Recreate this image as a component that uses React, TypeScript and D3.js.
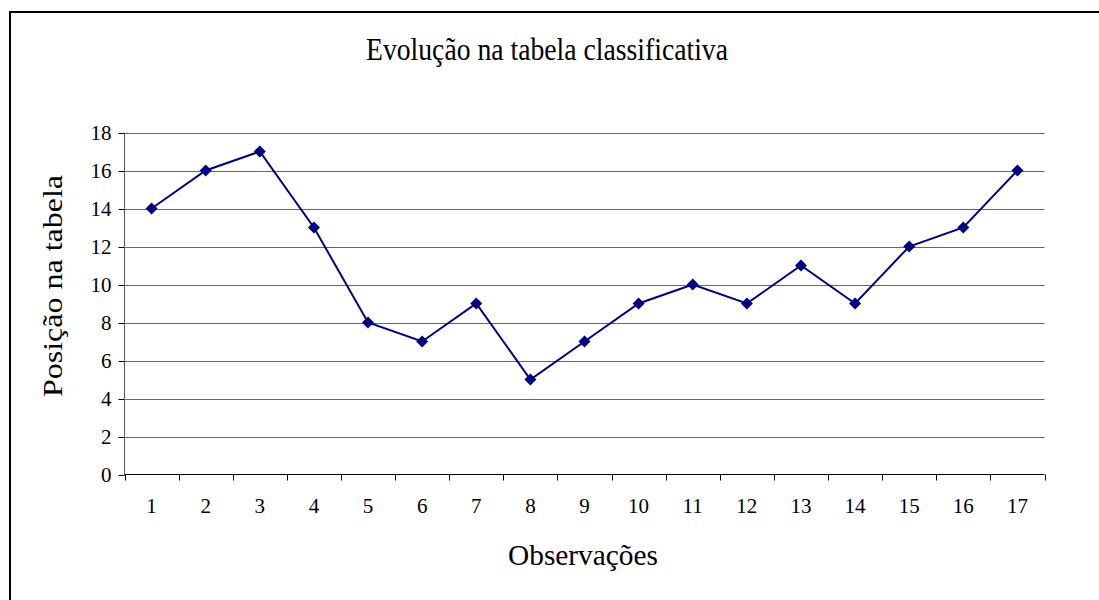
import React from 'react';
import { scaleBand, scaleLinear, line } from 'd3';

const categories = ['1', '2', '3', '4', '5', '6', '7', '8', '9', '10', '11', '12', '13', '14', '15', '16', '17'];
const positions = [14, 16, 17, 13, 8, 7, 9, 5, 7, 9, 10, 9, 11, 9, 12, 13, 16];
const yTicks = [0, 2, 4, 6, 8, 10, 12, 14, 16, 18];

const width = 1099;
const height = 600;
const left = 124.5;
const right = 1044.5;
const top = 132.5;
const bottom = 474.5;
const font = "'Times New Roman', 'Liberation Serif', 'DejaVu Serif', serif";
const navy = '#000080';

const x = scaleBand().domain(categories).range([left, right]);
const y = scaleLinear().domain([0, 18]).range([bottom, top]);

const App = () => {
    const pts = positions.map((v, i) => [x(categories[i]) + x.bandwidth() / 2, y(v)]);
    const path = line()(pts as [number, number][]);

    return (
        <svg width={width} height={height} style={{ position: 'absolute', left: 0, top: 0, fontFamily: font }}>
            <rect width={width} height={height} fill="#fff" />
            <path d={`M10,${height} L10,12 L${width},12`} fill="none" stroke="#000" strokeWidth={2} />

            <text x={366} y={60} fontSize={31} textLength={362} lengthAdjust="spacingAndGlyphs">
                Evolução na tabela classificativa
            </text>

            {/* grid + y ticks */}
            {yTicks.map(t => (
                <g key={t}>
                    {t > 0 && <line x1={left} x2={right} y1={Math.round(y(t)) + 0.5} y2={Math.round(y(t)) + 0.5} stroke="#666" />}
                    <line x1={left - 6} x2={left} y1={Math.round(y(t)) + 0.5} y2={Math.round(y(t)) + 0.5} stroke="#000" />
                    <text x={left - 13} y={y(t) + 7} textAnchor="end" fontSize={21}>{t}</text>
                </g>
            ))}
            <line x1={left} x2={left} y1={top} y2={bottom} stroke="#555" />
            <line x1={left} x2={right} y1={bottom} y2={bottom} stroke="#000" />

            {/* x ticks */}
            {[...categories.map(c => x(c)), right].map((p, i) => (
                <line key={i} x1={Math.round(p) + 0.5} x2={Math.round(p) + 0.5} y1={bottom} y2={bottom + 6} stroke="#000" />
            ))}
            {categories.map(c => (
                <text key={c} x={x(c) + x.bandwidth() / 2} y={bottom + 38.5} textAnchor="middle" fontSize={21}>{c}</text>
            ))}

            <path d={path} fill="none" stroke={navy} strokeWidth={2} />
            {pts.map(([px, py], i) => (
                <path key={i} d={`M${px},${py - 6} L${px + 6},${py} L${px},${py + 6} L${px - 6},${py} Z`} fill={navy} />
            ))}

            <text transform="translate(62, 397) rotate(-90)" fontSize={27} textLength={222} lengthAdjust="spacingAndGlyphs">
                Posição na tabela
            </text>
            <text x={508} y={565} fontSize={30} textLength={150} lengthAdjust="spacingAndGlyphs">
                Observações
            </text>
        </svg>
    );
};

export default App;
